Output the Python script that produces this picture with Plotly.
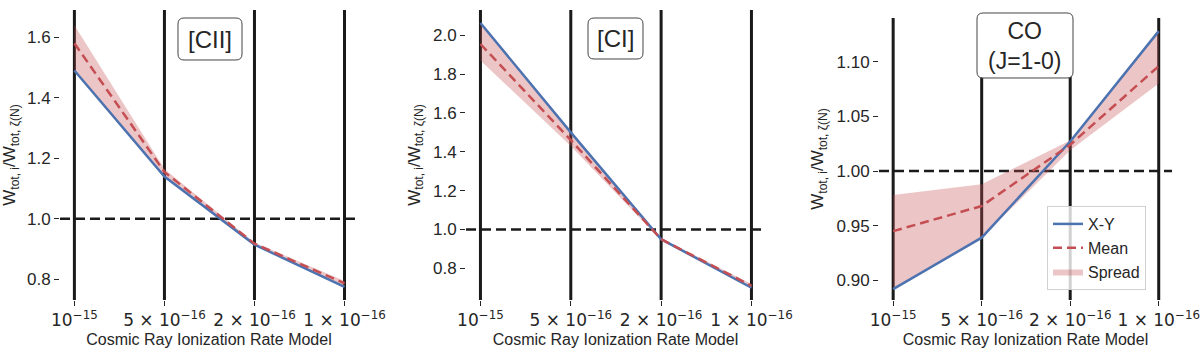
import plotly.graph_objects as go
from plotly.subplots import make_subplots

# 宇宙線電離率模型 (x 軸類別)
models = ["10<sup>−15</sup>", "5 × 10<sup>−16</sup>", "2 × 10<sup>−16</sup>", "1 × 10<sup>−16</sup>"]
x_pos = [0, 1, 2, 3]

# [CII]
cii_xy = [1.49, 1.14, 0.915, 0.775]
cii_mean = [1.58, 1.155, 0.918, 0.787]
cii_hi = [1.64, 1.165, 0.922, 0.795]
cii_lo = [1.49, 1.14, 0.912, 0.775]

# [CI]
ci_xy = [2.063, 1.50, 0.95, 0.70]
ci_mean = [1.955, 1.46, 0.95, 0.71]
ci_hi = [2.063, 1.50, 0.955, 0.72]
ci_lo = [1.87, 1.43, 0.945, 0.70]

# CO (J=1-0)
co_xy = [0.892, 0.939, 1.027, 1.128]
co_mean = [0.945, 0.968, 1.024, 1.096]
co_hi = [0.978, 0.988, 1.028, 1.128]
co_lo = [0.892, 0.939, 1.019, 1.080]

ref_level = 1.0

panels = [
    dict(name="[CII]", xy=cii_xy, mean=cii_mean, hi=cii_hi, lo=cii_lo,
         yrange=[0.732, 1.69], ticks=[0.8, 1.0, 1.2, 1.4, 1.6], fmt=".1f"),
    dict(name="[CI]", xy=ci_xy, mean=ci_mean, hi=ci_hi, lo=ci_lo,
         yrange=[0.637, 2.13], ticks=[0.8, 1.0, 1.2, 1.4, 1.6, 1.8, 2.0], fmt=".1f"),
    dict(name="CO<br>(J=1-0)", xy=co_xy, mean=co_mean, hi=co_hi, lo=co_lo,
         yrange=[0.882, 1.140], ticks=[0.90, 0.95, 1.00, 1.05, 1.10], fmt=".2f"),
]

W, H = 1200, 352
x_dom = [(60, 358), (466, 765), (879, 1172)]
y_top = [10, 10, 18]
y_bot = 300
# 標籤框 (像素): x0, y0, x1, y1
boxes = [(178, 18, 242, 60), (588, 18, 643, 59), (977, 13, 1073, 78)]

BLUE = "#4c72b0"
RED = "#c44e52"
SPREAD = "rgba(196,78,82,0.33)"
DARK = "#1a1a1a"
TXT = "#262626"
FONT = "Liberation Sans, Arial"

YTITLE = ("W<sub><span style='font-size:12px'>tot, i</span></sub>/"
          "W<sub><span style='font-size:12px'>tot, ζ(N)</span></sub>")


def rounded_box(x0, y0, x1, y1, r=6):
    """以像素座標建立圓角矩形路徑 (paper 座標)"""
    def P(x, y):
        return f"{x / W:.5f},{1 - y / H:.5f}"
    return (f"M {P(x0 + r, y0)} L {P(x1 - r, y0)} Q {P(x1, y0)} {P(x1, y0 + r)} "
            f"L {P(x1, y1 - r)} Q {P(x1, y1)} {P(x1 - r, y1)} "
            f"L {P(x0 + r, y1)} Q {P(x0, y1)} {P(x0, y1 - r)} "
            f"L {P(x0, y0 + r)} Q {P(x0, y0)} {P(x0 + r, y0)} Z")


fig = make_subplots(rows=1, cols=3)

for i, p in enumerate(panels):
    col = i + 1
    show = (i == 2)
    fig.add_trace(go.Scatter(
        x=x_pos + x_pos[::-1], y=p["hi"] + p["lo"][::-1],
        fill="toself", fillcolor=SPREAD, line=dict(width=0),
        mode="lines", name="Spread", showlegend=show, legendrank=3,
        hoverinfo="skip"
    ), row=1, col=col)
    fig.add_trace(go.Scatter(
        x=x_pos, y=p["xy"], mode="lines", name="X-Y",
        line=dict(color=BLUE, width=2.5), showlegend=show, legendrank=1
    ), row=1, col=col)
    fig.add_trace(go.Scatter(
        x=x_pos, y=p["mean"], mode="lines", name="Mean",
        line=dict(color=RED, width=2.5, dash="9px,5px"), showlegend=show, legendrank=2
    ), row=1, col=col)

    for xv in x_pos:
        fig.add_vline(x=xv, line=dict(color=DARK, width=3), layer="below", row=1, col=col)
    fig.add_hline(y=ref_level, line=dict(color=DARK, width=2.5, dash="10px,5px"),
                  layer="below", row=1, col=col)

    x0, x1 = x_dom[i]
    fig.update_xaxes(
        domain=[x0 / W, x1 / W], range=[-0.16, 3.15], automargin=False,
        tickvals=x_pos, ticktext=models, ticks="outside", ticklen=5,
        tickwidth=1.2, tickcolor=TXT, showgrid=False, zeroline=False, showline=False,
        ticklabeloverflow="allow",
        tickfont=dict(family="DejaVu Sans", size=17, color=TXT),
        title=dict(text="Cosmic Ray Ionization Rate Model", standoff=4,
                   font=dict(family=FONT, size=16, color=TXT)),
        row=1, col=col
    )
    fig.update_yaxes(
        domain=[1 - y_bot / H, 1 - y_top[i] / H], range=p["yrange"], automargin=False,
        tickvals=p["ticks"], tickformat=p["fmt"], ticks="outside", ticklen=5,
        tickwidth=1.2, tickcolor=TXT, showgrid=False, zeroline=False, showline=False,
        tickfont=dict(family=FONT, size=17, color=TXT),
        title=dict(text=YTITLE, standoff=8,
                   font=dict(family=FONT, size=17, color=TXT)),
        row=1, col=col
    )

    bx0, by0, bx1, by1 = boxes[i]
    fig.add_shape(type="path", path=rounded_box(bx0, by0, bx1, by1),
                  xref="paper", yref="paper", fillcolor="white",
                  line=dict(color="#444444", width=1), layer="above")
    fig.add_annotation(
        x=(bx0 + bx1) / 2 / W, y=1 - (by0 + by1) / 2 / H, xref="paper", yref="paper",
        xanchor="center", yanchor="middle",
        text=p["name"], showarrow=False,
        font=dict(family=FONT, size=24 if i < 2 else 23, color=TXT)
    )

fig.update_layout(
    width=W, height=H,
    margin=dict(l=0, r=0, t=0, b=0, autoexpand=False),
    paper_bgcolor="white", plot_bgcolor="white",
    font=dict(family=FONT, color=TXT),
    legend=dict(
        x=1047 / W, y=1 - 206 / H, xanchor="left", yanchor="top",
        bgcolor="rgba(255,255,255,0.8)", bordercolor="#d0d0d0", borderwidth=1,
        font=dict(size=16, color=TXT), itemwidth=30, tracegroupgap=0
    ),
    hovermode=False
)

fig.write_html("out.html", config={"displayModeBar": False},
               post_script="document.body.style.margin='0';")
